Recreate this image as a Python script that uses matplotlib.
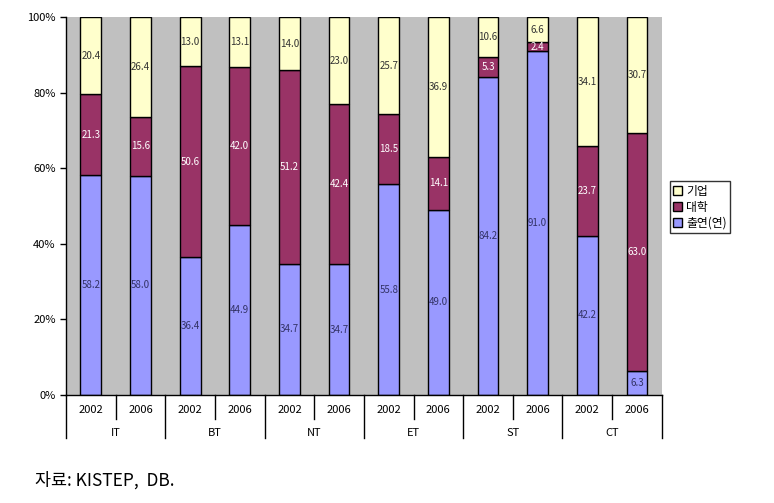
import matplotlib
matplotlib.use("Agg")
import matplotlib.pyplot as plt
from matplotlib.patches import Patch
import numpy as np

plt.rcParams['font.family'] = ['Noto Sans CJK KR', 'DejaVu Sans']

groups = ["IT", "BT", "NT", "ET", "ST", "CT"]
years = ["2002", "2006"]
institute = [58.2, 58.0, 36.4, 44.9, 34.7, 34.7, 55.8, 49.0, 84.2, 91.0, 42.2, 6.3]
university = [21.3, 15.6, 50.6, 42.0, 51.2, 42.4, 18.5, 14.1, 5.3, 2.4, 23.7, 63.0]
company = [20.4, 26.4, 13.0, 13.1, 14.0, 23.0, 25.7, 36.9, 10.6, 6.6, 34.1, 30.7]
series_names = ["출연(연)", "대학", "기업"]
colors = ["#9999FF", "#993366", "#FFFFCC"]
text_colors = ["#333366", "white", "#333333"]

raw = np.array([institute, university, company])
pct = raw / raw.sum(axis=0) * 100

fig = plt.figure(figsize=(7.74, 5.03), dpi=100)
ax = fig.add_axes([0.0853, 0.2147, 0.7697, 0.7513])
ax.set_facecolor("#C0C0C0")

x = np.arange(len(institute))
bottom = np.zeros(len(x))
for i in range(3):
    ax.bar(x, pct[i], bottom=bottom, width=0.42, color=colors[i],
           edgecolor="black", linewidth=1.0, zorder=2)
    for xi, b, h, v in zip(x, bottom, pct[i], raw[i]):
        ax.text(xi, b + h / 2, f"{v:.1f}", ha="center", va="center",
                fontsize=7, color=text_colors[i], zorder=3)
    bottom += pct[i]

ax.set_xlim(-0.5, len(x) - 0.5)
ax.set_ylim(0, 100)
ax.set_yticks(range(0, 101, 20))
ax.set_yticklabels([f"{v}%" for v in range(0, 101, 20)], fontsize=8)
ax.tick_params(axis="y", direction="out", length=4, width=1)
ax.set_xticks([])
for s in ["top", "right"]:
    ax.spines[s].set_visible(False)
ax.spines["left"].set_linewidth(1)
ax.spines["bottom"].set_linewidth(1)

# hierarchical category axis
trans = ax.get_xaxis_transform()
for xi in x:
    ax.text(xi, -0.04, years[xi % 2], ha="center", va="center", fontsize=8,
            transform=trans)
for gi, g in enumerate(groups):
    ax.text(gi * 2 + 0.5, -0.10, g, ha="center", va="center", fontsize=8,
            transform=trans)
for k in range(len(x) + 1):
    xb = k - 0.5
    y_end = -0.115 if k % 2 == 0 else -0.063
    ax.plot([xb, xb], [0, y_end], color="black", linewidth=1,
            transform=trans, clip_on=False)

handles = [Patch(facecolor=colors[i], edgecolor="black", label=series_names[i])
           for i in [2, 1, 0]]
leg = fig.legend(handles=handles, loc="upper left", bbox_to_anchor=(0.865, 0.64),
                 fontsize=8.5, frameon=True, fancybox=False, edgecolor="black",
                 handlelength=0.8, handleheight=0.8, handletextpad=0.3,
                 labelspacing=0.25, borderpad=0.3, borderaxespad=0)
leg.get_frame().set_linewidth(1)

fig.text(0.045, 0.045, "자료: KISTEP,  DB.", fontsize=12.5, ha="left", va="center")

fig.savefig("out.png", dpi=100)
